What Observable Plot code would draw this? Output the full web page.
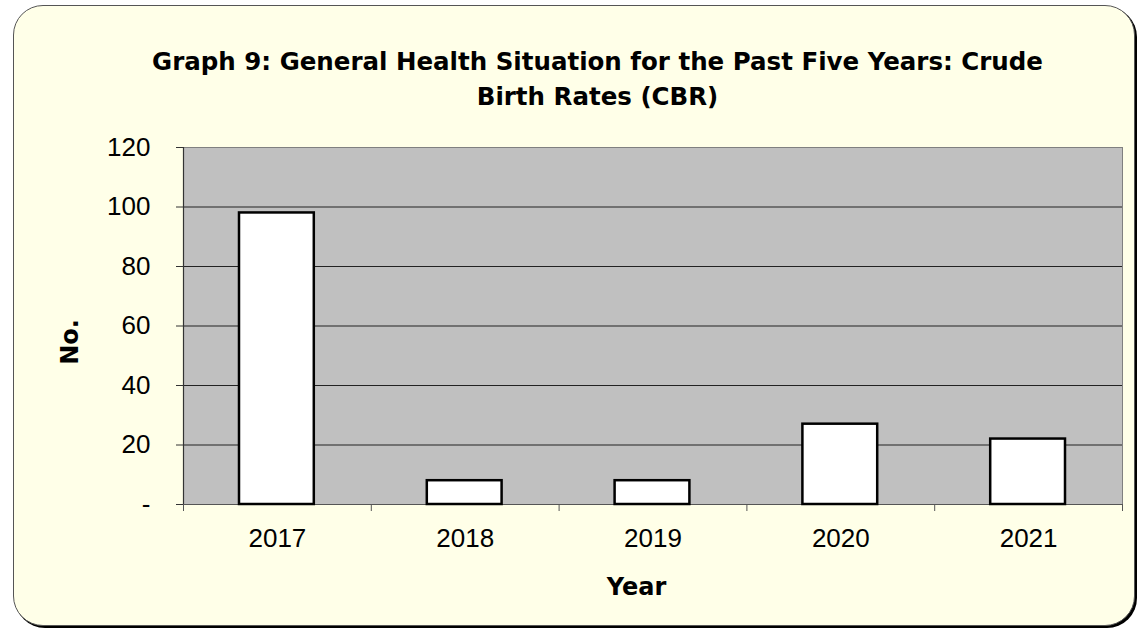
<!DOCTYPE html>
<html>
<head>
<meta charset="utf-8">
<script src="https://cdn.jsdelivr.net/npm/d3@7"></script>
<script src="https://cdn.jsdelivr.net/npm/@observablehq/plot@0.6"></script>
<style>
  html, body { margin: 0; padding: 0; background: #ffffff; }
  body { width: 1140px; height: 629px; position: relative; overflow: hidden; font-family: "DejaVu Sans", sans-serif; }
  #box { position: absolute; left: 13px; top: 5px; width: 1120px; height: 619px; background: #ffffe8; border: 1px solid #555; border-radius: 30px; box-shadow: 2px 2px 0 #000; }
  #title { position: absolute; left: 0; width: 1195px; top: 45px; text-align: center; font-weight: bold; font-size: 24.5px; line-height: 34.5px; color: #000; white-space: nowrap; }
  #xlab { position: absolute; left: 0; width: 1273px; top: 572px; line-height: 30px; text-align: center; font-weight: bold; font-size: 24px; color: #000; }
  #ylab { position: absolute; left: 69.5px; top: 342px; line-height: 30px; transform: translate(-50%, -50%) rotate(-90deg); font-weight: bold; font-size: 24px; color: #000; white-space: nowrap; }
  #chart { position: absolute; left: 0; top: 0; }
</style>
</head>
<body>
<div id="box"></div>
<div id="title">Graph 9: General Health Situation for the Past Five Years: Crude<br>Birth Rates (CBR)</div>
<div id="ylab">No.</div>
<div id="xlab">Year</div>
<div id="chart"></div>
<script>
const years = ["2017", "2018", "2019", "2020", "2021"];
const values = [98, 8, 8, 27, 22];
const yTicks = [0, 20, 40, 60, 80, 100, 120];
const gridTicks = [20, 40, 60, 80, 100];

const data = years.map((y, i) => ({year: y, i, value: values[i]}));

const chart = Plot.plot({
  width: 1140,
  height: 629,
  marginLeft: 183,
  marginRight: 18,
  marginTop: 147,
  marginBottom: 125,
  style: {background: "transparent", fontFamily: "'Liberation Sans', Arial, sans-serif", fontSize: "26px", color: "#000"},
  x: {domain: [0, years.length], label: null},
  y: {domain: [0, 120], label: null},
  marks: [
    Plot.frame({fill: "#c0c0c0", stroke: "#808080", strokeWidth: 1}),
    Plot.ruleY(gridTicks, {stroke: "#222", strokeWidth: 1}),
    Plot.ruleX([0], {stroke: "#333", strokeWidth: 1.2}),
    Plot.ruleY([0], {stroke: "#555", strokeWidth: 1.2}),
    Plot.rectY(data, {x1: "i", x2: d => d.i + 1, y: "value", fill: "#ffffff", stroke: "#000", strokeWidth: 2.5, insetLeft: 56, insetRight: 57}),
    Plot.axisY({ticks: yTicks, tickSize: 7, tickPadding: 26, stroke: "#333", tickFormat: d => d === 0 ? "-" : d, fontSize: 26, label: null}),
    Plot.axisX({ticks: d3.range(0, years.length + 1), tickSize: 7, tickFormat: () => "", stroke: "#555", label: null}),
    Plot.axisX({ticks: years.map((y, i) => i + 0.5), tickSize: 0, tickPadding: 24, tickFormat: d => years[Math.floor(d)], fontSize: 26, label: null}),
  ]
});
document.getElementById("chart").appendChild(chart);
</script>
</body>
</html>
